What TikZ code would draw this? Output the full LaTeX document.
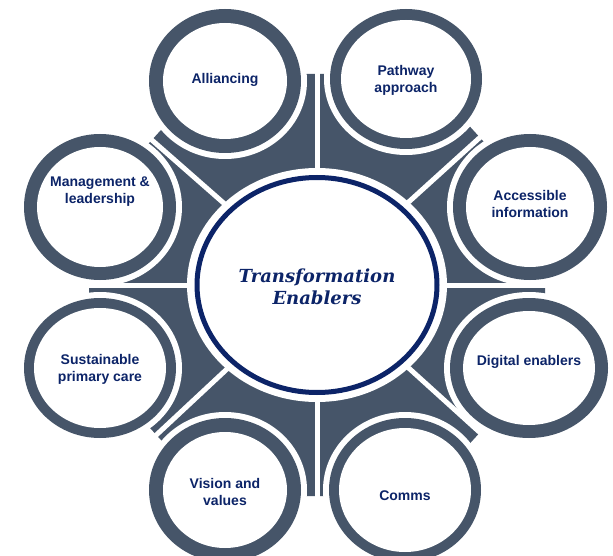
\documentclass[tikz,border=0pt]{standalone}
\usepackage{fontspec}
\setmainfont{Liberation Sans}
\newfontfamily\hubfont{DejaVu Serif}
\definecolor{slate}{RGB}{70,85,105}
\definecolor{navy}{RGB}{12,36,104}
\tikzset{
  enabler/.style={font=\bfseries\fontsize{14}{17}\selectfont, text=navy, align=center, inner sep=0pt},
  hubtext/.style={font=\hubfont\bfseries\itshape\fontsize{18}{21.5}\selectfont, text=navy, align=center, inner sep=0pt},
  divider/.style={white, line width=5pt}
}
% #1 name, #2 x, #3 y, #4 x radius, #5 y radius, #6 ring width, #7 text y, #8 label
\newcommand\enablerdisc[8]{%
  \fill[white] (#2,#3) ellipse [x radius=#4+6, y radius=#5+6];
  \fill[slate] (#2,#3) ellipse [x radius=#4, y radius=#5];
  \fill[white] (#2,#3) ellipse [x radius=#4-#6, y radius=#5-#6];
  \node[enabler] (#1) at (#2,#7) {#8};
}
\begin{document}
\begin{tikzpicture}[x=1pt,y=-1pt]
\useasboundingbox (0,0) rectangle (613,556);
\fill[white] (0,0) rectangle (613,556);

% centre of the wheel
\coordinate (hubc) at (317,285);

% slate octagon behind everything
\begin{scope}[shift={(317,285)}]
  \fill[slate] (105,-211) -- (228,-76) -- (228,76) -- (105,211) -- (-105,211)
    -- (-228,76) -- (-228,-76) -- (-105,-211) -- cycle;
  \coordinate (eN)  at (0,-230);
  \coordinate (eS)  at (0,230);
  \coordinate (eE)  at (250,0);
  \coordinate (eW)  at (-250,0);
  \coordinate (eNE) at (180,-163);
  \coordinate (eNW) at (-180,-158);
  \coordinate (eSE) at (180,163);
  \coordinate (eSW) at (-180,168);
\end{scope}

% white dividers between the segments
\foreach \e in {eN,eS,eE,eW,eNE,eNW,eSE,eSW}
  \draw[divider] (hubc) -- (\e);

% the eight enablers
\enablerdisc{alli}{225}{81}{76}{72}{14}{80}{Alliancing}
\enablerdisc{path}{406}{79}{76}{70}{11}{80.5}{Pathway\\approach}
\enablerdisc{acc}{530}{207}{77}{73}{13}{203.5}{Accessible\\information}
\enablerdisc{dig}{529}{368}{79}{70}{13}{361.5}{Digital enablers}
\enablerdisc{comms}{405}{490}{76}{72}{10}{495.5}{Comms}
\enablerdisc{vis}{225}{490}{76}{72}{14}{492}{Vision and\\values}
\enablerdisc{sus}{100}{368}{76}{70}{10}{369}{Sustainable\\primary care}
\enablerdisc{mgmt}{100}{207}{76}{73}{13}{192}{Management \&\\leadership}

% central hub
\fill[white] (hubc) ellipse [x radius=130, y radius=117];
\draw[navy, line width=5pt, fill=white] (hubc) ellipse [x radius=120, y radius=107.5];
\node[hubtext] (hub) at (317,287) {Transformation\\Enablers};
\end{tikzpicture}
\end{document}
